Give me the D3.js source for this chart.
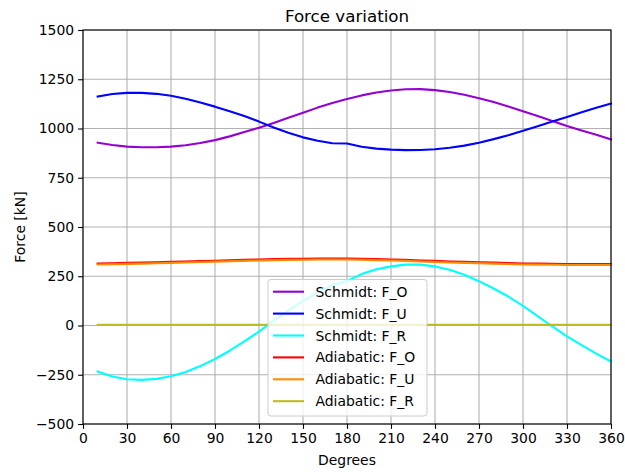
<!DOCTYPE html>
<html><head><meta charset="utf-8">
<script src="https://cdn.jsdelivr.net/npm/d3@7"></script>
<style>body{margin:0;background:#fff}svg{display:block}text{font-family:"DejaVu Sans",sans-serif;fill:#000}</style>
</head><body><svg id="c" width="625" height="472"></svg>
<script>
const degrees = [10,20,30,40,50,60,70,80,90,100,110,120,130,140,150,160,170,180,190,200,210,220,230,240,250,260,270,280,290,300,310,320,330,340,350,360];
const schmidtFO = [928,916,908,905,905,908,915,926,941,960,982,1004,1028,1054,1080,1106,1130,1150,1168,1183,1193,1199,1200,1195,1185,1171,1154,1134,1112,1088,1063,1038,1013,990,968,944];
const schmidtFU = [1162,1175,1181,1181,1176,1166,1151,1132,1111,1088,1063,1035,1005,978,955,938,925,924,907,898,893,890,891,895,902,913,928,946,966,988,1012,1035,1058,1082,1105,1127];
const schmidtFR = [-234,-259,-273,-276,-271,-258,-236,-206,-170,-128,-81,-31,23,76,125,168,205,226,261,285,300,309,309,300,283,258,225,188,147,100,48,-5,-55,-100,-143,-183];
const adiabFO = [315,316,318,319,321,323,325,327,329,331,333,335,337,338,339,340,340,340,339,337,335,333,330,328,325,323,321,319,317,315,314,313,312,312,312,312];
const adiabFU = [310,311,313,314,316,318,320,322,324,326,328,330,332,333,334,335,335,335,334,332,330,328,325,323,320,318,316,314,312,310,309,308,307,307,307,307];
const adiabFR = [3,3,3,3,3,3,3,3,3,3,3,3,3,3,3,3,3,3,3,3,3,3,3,3,3,3,3,3,3,3,3,3,3,3,3,3];
const seriesNames = ["Schmidt: F_O","Schmidt: F_U","Schmidt: F_R","Adiabatic: F_O","Adiabatic: F_U","Adiabatic: F_R"];
const seriesValues = [schmidtFO,schmidtFU,schmidtFR,adiabFO,adiabFU,adiabFR];
const seriesColors = ["#9400d3","#0000ff","#00ffff","#ff0000","#ff8c00","#bcbd22"];
const xTicks = [0,30,60,90,120,150,180,210,240,270,300,330,360];
const yTicks = [-500,-250,0,250,500,750,1000,1250,1500];

const L=83,R=611,T=30,B=424;
const svg=d3.select("#c");
const x=d3.scaleLinear().domain([0,360]).range([L,R]);
const y=d3.scaleLinear().domain([-500,1500]).range([B,T]);

// grid
const g=svg.append("g");
g.selectAll("line.vx").data(xTicks).join("line").attr("x1",d=>x(d)).attr("x2",d=>x(d)).attr("y1",T).attr("y2",B).attr("stroke","#b0b0b0").attr("stroke-width",1.1);
g.selectAll("line.hy").data(yTicks).join("line").attr("y1",d=>y(d)).attr("y2",d=>y(d)).attr("x1",L).attr("x2",R).attr("stroke","#b0b0b0").attr("stroke-width",1.1);

// lines
const line=d3.line().x((d,i)=>x(degrees[i])).y(d=>y(d));
seriesValues.forEach((vals,k)=>{
  svg.append("path").attr("d",line(vals)).attr("fill","none").attr("stroke",seriesColors[k]).attr("stroke-width",2.1).attr("stroke-linejoin","round").attr("stroke-linecap","square");
});

// axes
const fmt=d=>d<0?"\u2212"+Math.abs(d):String(d);
const xa=svg.append("g").attr("transform",`translate(0,${B})`).call(d3.axisBottom(x).tickValues(xTicks).tickFormat(fmt).tickSizeOuter(0).tickSize(4.9).tickPadding(4));
const ya=svg.append("g").attr("transform",`translate(${L},0)`).call(d3.axisLeft(y).tickValues(yTicks).tickFormat(fmt).tickSizeOuter(0).tickSize(4.9).tickPadding(4));
[xa,ya].forEach(a=>{a.selectAll("text").attr("font-size","13.9px").attr("font-family","DejaVu Sans");a.select(".domain").remove();a.selectAll("line").attr("stroke","#000").attr("stroke-width",1.1);});
svg.append("rect").attr("x",L).attr("y",T).attr("width",R-L).attr("height",B-T).attr("fill","none").attr("stroke","#000").attr("stroke-width",1.1);

// legend
const lg=svg.append("g");
lg.append("rect").attr("x",268).attr("y",279.5).attr("width",159).attr("height",136.5).attr("rx",3).attr("fill","#fff").attr("fill-opacity",0.8).attr("stroke","#cccccc").attr("stroke-width",1);
seriesNames.forEach((n,k)=>{
  const cy=291.7+k*21.9;
  lg.append("line").attr("x1",273).attr("x2",304).attr("y1",cy).attr("y2",cy).attr("stroke",seriesColors[k]).attr("stroke-width",2.1);
  lg.append("text").attr("x",315.5).attr("y",cy+5).attr("font-size","13.9px").text(n);
});

// labels
svg.append("text").attr("x",(L+R)/2).attr("y",22).attr("text-anchor","middle").attr("font-size","16.7px").text("Force variation");
svg.append("text").attr("x",(L+R)/2).attr("y",465).attr("text-anchor","middle").attr("font-size","13.9px").text("Degrees");
svg.append("text").attr("transform",`translate(25,${(T+B)/2}) rotate(-90)`).attr("text-anchor","middle").attr("font-size","13.9px").text("Force [kN]");
</script></body></html>
